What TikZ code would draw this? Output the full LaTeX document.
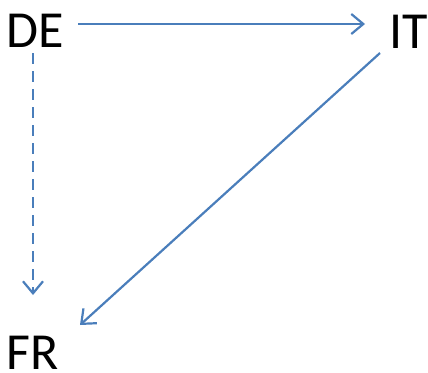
\documentclass[tikz,border=0pt]{standalone}
\usepackage{fontspec}
\setmainfont{Carlito}
\usetikzlibrary{arrows.meta}
\definecolor{arrblue}{HTML}{4A7EBB}
\tikzset{
  lbl/.style={anchor=base west, inner sep=0pt, font=\fontsize{52}{52}\selectfont, text=black},
  conn/.style={draw=arrblue, line width=2.2pt, -{Straight Barb[length=12pt,width=20pt,line width=2.2pt]}},
}
\begin{document}
\begin{tikzpicture}[x=1pt,y=-1pt]
\useasboundingbox (0,0) rectangle (428,372);
\node[lbl] (de) at (6,47) {DE};
\node[lbl] (it) at (389,48) {IT};
\node[lbl] (fr) at (6,369) {FR};
\coordinate (deR) at (78,24);
\coordinate (itL) at (365,24);
\coordinate (deB) at (33,53);
\coordinate (frT) at (33,295);
\coordinate (itB) at (380,53);
\coordinate (frR) at (80,325);
\draw[conn] (deR) -- (itL);
\draw[conn, dash pattern=on 11pt off 7pt] (deB) -- (frT);
\draw[conn] (itB) -- (frR);
\end{tikzpicture}
\end{document}
